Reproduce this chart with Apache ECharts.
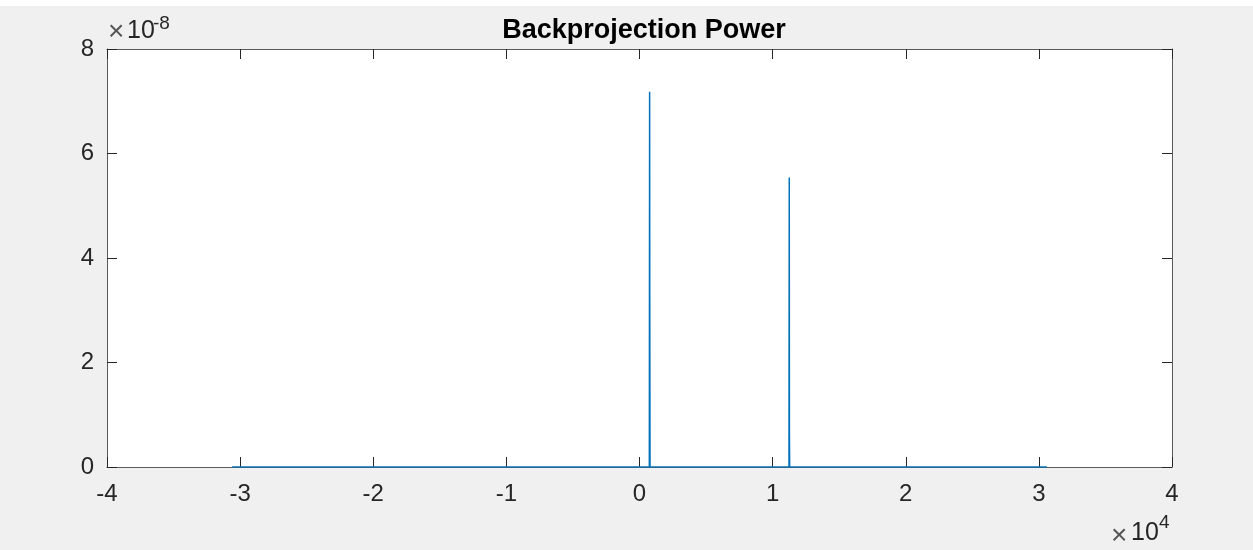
<!DOCTYPE html>
<html>
<head>
<meta charset="utf-8">
<script src="https://cdn.jsdelivr.net/npm/echarts@6/dist/echarts.min.js"></script>
<style>
    html, body { margin: 0; padding: 0; background: #f0f0f0; }
    #chart { width: 1253px; height: 550px; }
</style>
</head>
<body>
<div id="chart"></div>
<script>
    // range samples (x) and backprojection power (y)
    const rangeX = [-30600, 740, 760, 770, 790, 11230, 11250, 11260, 11280, 30600];
    const power = [0, 0, 7.18e-8, 3.25e-8, 0, 0, 5.54e-8, 0.65e-8, 0, 0];
    const xTicks = [-40000, 40000, 10000];   // min, max, step
    const yTicks = [0, 8e-8, 2e-8];

    const chart = echarts.init(document.getElementById('chart'));
    const font = 'Liberation Sans, Arial, Helvetica, sans-serif';
    const axisColor = '#262626';

    const seriesData = rangeX.map((x, i) => [x, power[i]]);

    const baseAxis = {
        type: 'value',
        axisLine: { show: true, onZero: false, lineStyle: { color: '#5a5a5a', width: 1 } },
        axisTick: { show: true, inside: true, length: 10, lineStyle: { color: axisColor } },
        splitLine: { show: false },
        axisLabel: { show: false }
    };

    const option = {
        backgroundColor: '#f0f0f0',
        animation: false,
        title: {
            text: 'Backprojection Power',
            left: 639,
            top: 12,
            textAlign: 'center',
            textStyle: { fontFamily: font, fontWeight: 'bold', fontSize: 27, color: '#000' }
        },
        grid: {
            left: 107, right: 81, top: 49, bottom: 83,
            show: true, backgroundColor: '#fff', borderWidth: 0
        },
        xAxis: [
            Object.assign({}, baseAxis, {
                position: 'bottom',
                min: xTicks[0], max: xTicks[1], interval: xTicks[2],
                axisLabel: {
                    show: true, margin: 15, fontSize: 24, fontFamily: font, color: axisColor,
                    formatter: v => String(Math.round(v / 1e4))
                }
            }),
            Object.assign({}, baseAxis, {
                position: 'top',
                min: xTicks[0], max: xTicks[1], interval: xTicks[2]
            })
        ],
        yAxis: [
            Object.assign({}, baseAxis, {
                position: 'left',
                min: yTicks[0], max: yTicks[1], interval: yTicks[2],
                axisLabel: {
                    show: true, margin: 13, fontSize: 24, fontFamily: font, color: axisColor,
                    formatter: v => String(Math.round(v * 1e8))
                }
            }),
            Object.assign({}, baseAxis, {
                position: 'right',
                min: yTicks[0], max: yTicks[1], interval: yTicks[2]
            })
        ],
        graphic: [
            { type: 'rect', shape: { x: 0, y: 0, width: 1253, height: 6 }, style: { fill: '#fff' } },
            { type: 'text', left: 108, top: 18, style: { text: '×', font: '28px ' + font, fill: '#555' } },
            { type: 'text', left: 127, top: 19, style: { text: '10', font: '25px ' + font, fill: axisColor } },
            { type: 'text', left: 153, top: 14, style: { text: '-8', font: '19px ' + font, fill: axisColor } },
            { type: 'text', left: 1111, top: 522, style: { text: '×', font: '28px ' + font, fill: '#555' } },
            { type: 'text', left: 1131, top: 521, style: { text: '10', font: '25px ' + font, fill: axisColor } },
            { type: 'text', left: 1159, top: 513, style: { text: '4', font: '19px ' + font, fill: axisColor } }
        ],
        series: [{
            type: 'line',
            data: seriesData,
            showSymbol: false,
            silent: true,
            lineStyle: { color: '#0072BD', width: 1.5 },
            z: 3
        }]
    };

    chart.setOption(option);
</script>
</body>
</html>
